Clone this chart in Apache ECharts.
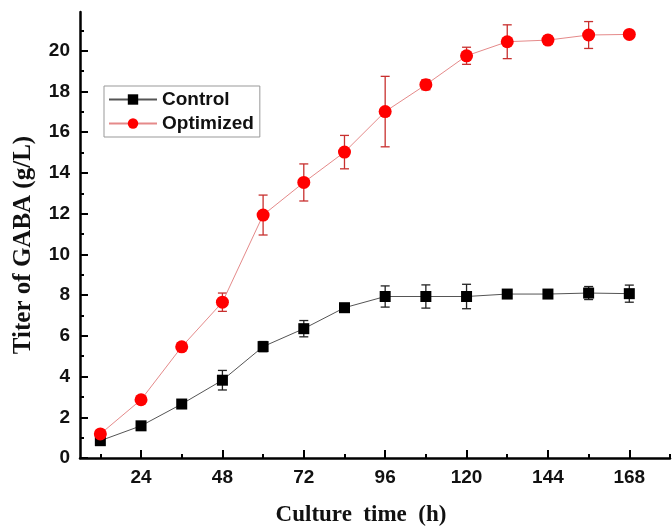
<!DOCTYPE html>
<html>
<head>
<meta charset="utf-8">
<script src="https://cdn.jsdelivr.net/npm/echarts@6/dist/echarts.min.js"></script>
<style>html,body{margin:0;padding:0;background:#fff;}#c{width:672px;height:532px;}</style>
</head>
<body>
<div id="c"></div>
<script>
const hours = [12, 24, 36, 48, 60, 72, 84, 96, 108, 120, 132, 144, 156, 168];
const control = [0.85, 1.58, 2.65, 3.82, 5.47, 6.35, 7.38, 7.93, 7.93, 7.93, 8.05, 8.05, 8.1, 8.07];
const controlErr = [0.1, 0.08, 0.1, 0.48, 0.25, 0.4, 0.2, 0.52, 0.57, 0.6, 0.1, 0.15, 0.32, 0.42];
const optimized = [1.18, 2.86, 5.46, 7.65, 11.93, 13.53, 15.02, 17.01, 18.33, 19.75, 20.44, 20.52, 20.77, 20.8];
const optimizedErr = [0.1, 0.1, 0.2, 0.45, 0.98, 0.91, 0.82, 1.73, 0.25, 0.42, 0.83, 0.2, 0.66, 0.12];
const xMajorTicks = [24, 48, 72, 96, 120, 144, 168];
const xMinorTicks = [12, 36, 60, 84, 108, 132, 156, 180];
const yMajorTicks = [0, 2, 4, 6, 8, 10, 12, 14, 16, 18, 20];
const yMinorTicks = [1, 3, 5, 7, 9, 11, 13, 15, 17, 19, 21];

const chart = echarts.init(document.getElementById('c'), null, {renderer: 'canvas'});

function errBar(color) {
  return function (params, api) {
    const x = api.value(0), y = api.value(1), e = api.value(2);
    const t = api.coord([x, y + e]), b = api.coord([x, y - e]);
    const w = 4.5;
    const st = {stroke: color, lineWidth: 1.3};
    return {type: 'group', children: [
      {type: 'line', shape: {x1: t[0], y1: t[1], x2: b[0], y2: b[1]}, style: st},
      {type: 'line', shape: {x1: t[0] - w, y1: t[1], x2: t[0] + w, y2: t[1]}, style: st},
      {type: 'line', shape: {x1: b[0] - w, y1: b[1], x2: b[0] + w, y2: b[1]}, style: st}
    ]};
  };
}

const labelFont = {fontFamily: 'Liberation Sans, Arial, sans-serif', fontWeight: 'bold', fontSize: 19, color: '#111'};
const titleFont = {fontFamily: 'Liberation Serif, Times New Roman, serif', fontWeight: 'bold', fontSize: 23, color: '#111'};

const option = {
  animation: false,
  backgroundColor: '#fff',
  grid: {left: 80, top: 12, width: 590, height: 447, containLabel: false},
  legend: {
    orient: 'vertical', left: 104, top: 86,
    data: ['Control', 'Optimized'],
    borderColor: '#999', borderWidth: 1, padding: [4, 6, 4, 4],
    itemWidth: 48, itemHeight: 13, itemGap: 5,
    textStyle: {fontFamily: 'Liberation Sans, Arial, sans-serif', fontWeight: 'bold', fontSize: 19, color: '#111'}
  },
  xAxis: [{
    type: 'value', min: 6, max: 180, position: 'bottom',
    axisLine: {lineStyle: {color: '#000', width: 2.5}},
    axisTick: {inside: true, length: 8, lineStyle: {color: '#000', width: 2}, customValues: xMajorTicks},
    axisLabel: Object.assign({margin: 10, customValues: xMajorTicks}, labelFont),
    splitLine: {show: false},
    name: 'Culture  time  (h)', nameLocation: 'middle', nameGap: 46,
    nameTextStyle: Object.assign({padding: [0, 28, 0, 0]}, titleFont)
  }, {
    type: 'value', min: 6, max: 180, position: 'bottom',
    axisLine: {show: false},
    axisTick: {inside: true, length: 4, lineStyle: {color: '#000', width: 2}, customValues: xMinorTicks},
    axisLabel: {show: false}, splitLine: {show: false}
  }],
  yAxis: [{
    type: 'value', min: 0, max: 21.9, position: 'left',
    axisLine: {show: true, lineStyle: {color: '#000', width: 2.5}},
    axisTick: {inside: true, length: 8, lineStyle: {color: '#000', width: 2}, customValues: yMajorTicks},
    axisLabel: Object.assign({margin: 10, customValues: yMajorTicks}, labelFont),
    splitLine: {show: false},
    name: 'Titer of GABA (g/L)', nameLocation: 'middle', nameGap: 44,
    nameTextStyle: Object.assign({padding: [0, 20, 0, 0]}, titleFont, {fontSize: 25})
  }, {
    type: 'value', min: 0, max: 21.9, position: 'left',
    axisLine: {show: false},
    axisTick: {inside: true, length: 4, lineStyle: {color: '#000', width: 2}, customValues: yMinorTicks},
    axisLabel: {show: false}, splitLine: {show: false}
  }],
  series: [
    {
      type: 'custom', name: 'ctrlErr', xAxisIndex: 0, yAxisIndex: 0, z: 3,
      renderItem: errBar('#222'),
      data: hours.map((h, i) => [h, control[i], controlErr[i]])
    },
    {
      type: 'custom', name: 'optErr', xAxisIndex: 0, yAxisIndex: 0, z: 3,
      renderItem: errBar('#c8302f'),
      data: hours.map((h, i) => [h, optimized[i], optimizedErr[i]])
    },
    {
      type: 'line', name: 'Control', xAxisIndex: 0, yAxisIndex: 0, z: 4,
      symbol: 'rect', symbolSize: 11,
      itemStyle: {color: '#000'},
      lineStyle: {color: '#555', width: 1},
      data: hours.map((h, i) => [h, control[i]])
    },
    {
      type: 'line', name: 'Optimized', xAxisIndex: 0, yAxisIndex: 0, z: 4,
      symbol: 'circle', symbolSize: 13,
      itemStyle: {color: '#ff0000'},
      lineStyle: {color: '#e58a8a', width: 1},
      data: hours.map((h, i) => [h, optimized[i]])
    }
  ]
};
chart.setOption(option);
</script>
</body>
</html>
